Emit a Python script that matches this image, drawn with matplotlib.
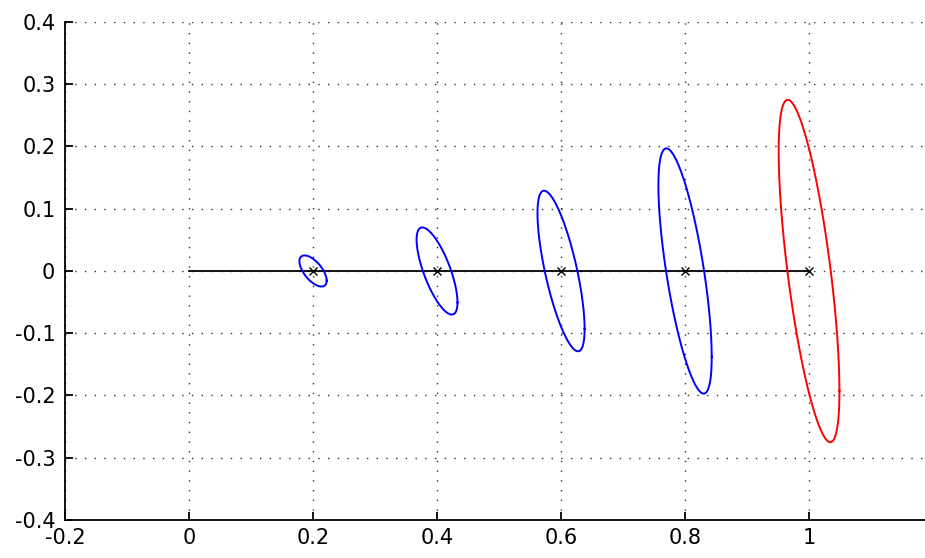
import numpy as np
import matplotlib
matplotlib.use("Agg")
import matplotlib.pyplot as plt

# data
centers_x = [0.2, 0.4, 0.6, 0.8, 1.0]
centers_y = [0.0, 0.0, 0.0, 0.0, 0.0]
half_x = [0.022, 0.033, 0.038, 0.043, 0.049]   # half extent in x
half_y = [0.025, 0.070, 0.129, 0.197, 0.275]   # half extent in y
corr = [-0.62, -0.72, -0.72, -0.70, -0.70]
ell_colors = ["blue", "blue", "blue", "blue", "red"]
line_x = [0.0, 1.0]
line_y = [0.0, 0.0]
xticks = [-0.2, 0, 0.2, 0.4, 0.6, 0.8, 1.0]
xtick_labels = ["-0.2", "0", "0.2", "0.4", "0.6", "0.8", "1"]
yticks = [-0.4, -0.3, -0.2, -0.1, 0, 0.1, 0.2, 0.3, 0.4]
ytick_labels = ["-0.4", "-0.3", "-0.2", "-0.1", "0", "0.1", "0.2", "0.3", "0.4"]

plt.rcParams['font.family'] = ['DejaVu Sans']

fig = plt.figure(figsize=(9.25, 5.58), dpi=100)
ax = fig.add_axes([0.0703, 0.0681, 0.9297, 0.8925])

ax.plot(line_x, line_y, color="black", lw=1.3, zorder=3)

t = np.linspace(0, 2 * np.pi, 200)
for cx, cy, a, b, r, c in zip(centers_x, centers_y, half_x, half_y, corr, ell_colors):
    ex = cx + a * np.cos(t)
    ey = cy + b * (r * np.cos(t) + np.sqrt(1 - r ** 2) * np.sin(t))
    ax.plot(ex, ey, color=c, lw=1.4, zorder=4)

ax.plot(centers_x, centers_y, linestyle="none", marker="x", color="black",
        markersize=6, markeredgewidth=1.0, zorder=5)

ax.set_xlim(-0.2, 1.187)
ax.set_ylim(-0.4, 0.4)
ax.set_xticks(xticks)
ax.set_xticklabels(xtick_labels)
ax.set_yticks(yticks)
ax.set_yticklabels(ytick_labels)

ax.grid(True, color="#303030", linestyle=(0, (1, 6)), linewidth=1.0)
ax.spines['top'].set_visible(False)
ax.spines['right'].set_visible(False)
for s in ['left', 'bottom']:
    ax.spines[s].set_linewidth(1.3)
ax.tick_params(direction="in", length=6, width=1.3, labelsize=15)
ax.tick_params(axis="y", pad=7)
ax.tick_params(axis="x", pad=6)

fig.savefig("out.png", dpi=100)
